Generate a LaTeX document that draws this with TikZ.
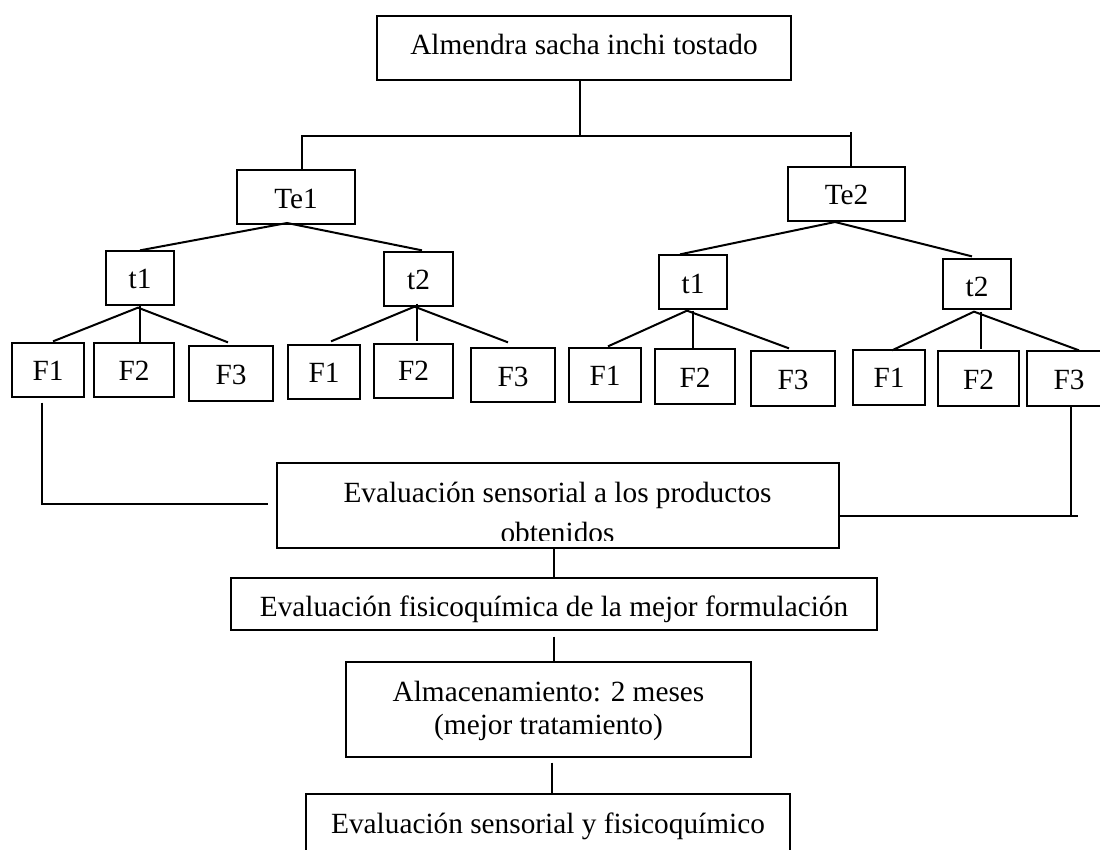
\documentclass[tikz,border=0pt]{standalone}
\usepackage{fontspec}
\setmainfont{Liberation Serif}
\usetikzlibrary{calc}
\begin{document}
\begin{tikzpicture}[x=1pt,y=-1pt,
  font=\fontsize{29.3}{35}\selectfont,
  bx/.style={draw, line width=1.3pt, inner sep=0pt, text height=24pt},
  ln/.style={line width=2pt},
  lnthin/.style={line width=1.4pt}]
\useasboundingbox (0,0) rectangle (1100,849);
\clip (0,0) rectangle (1100,849);
\fill[white] (0,0) rectangle (1100,849);

% top
\node[bx, minimum width=414pt, minimum height=64pt, text depth=12pt] (root) at (584,48) {Almendra sacha inchi tostado};
\node[bx, minimum width=118pt, minimum height=54pt, text depth=2pt] (Te1) at (296,197) {Te1};
\node[bx, minimum width=117pt, minimum height=54pt, text depth=4pt] (Te2) at (846.5,194) {Te2};

% t level
\node[bx, minimum width=68pt, minimum height=54pt, text depth=4pt] (t1a) at (140,278) {t1};
\node[bx, minimum width=69pt, minimum height=54pt, text depth=4pt] (t2a) at (418.5,279) {t2};
\node[bx, minimum width=68pt, minimum height=54pt, text depth=2pt] (t1b) at (693,282) {t1};
\node[bx, minimum width=68pt, minimum height=50pt, text depth=0pt] (t2b) at (977,284) {t2};

% F level
\node[bx, minimum width=72pt, minimum height=54pt, text depth=4pt] (Fa1) at (48,370) {F1};
\node[bx, minimum width=80pt, minimum height=54pt, text depth=4pt] (Fa2) at (134,370) {F2};
\node[bx, minimum width=84pt, minimum height=55pt, text depth=3pt] (Fa3) at (231,373.5) {F3};
\node[bx, minimum width=72pt, minimum height=54pt, text depth=4pt] (Fa4) at (324,372) {F1};
\node[bx, minimum width=79pt, minimum height=54pt, text depth=6pt] (Fa5) at (413.5,371) {F2};
\node[bx, minimum width=84pt, minimum height=54pt, text depth=2pt] (Fa6) at (513,375) {F3};
\node[bx, minimum width=72pt, minimum height=54pt, text depth=4pt] (Fb1) at (605,375) {F1};
\node[bx, minimum width=80pt, minimum height=55pt, text depth=3pt] (Fb2) at (695,376.5) {F2};
\node[bx, minimum width=84pt, minimum height=55pt, text depth=3pt] (Fb3) at (793,378.5) {F3};
\node[bx, minimum width=72pt, minimum height=55pt, text depth=5pt] (Fb4) at (889,377.5) {F1};
\node[bx, minimum width=81pt, minimum height=55pt, text depth=3pt] (Fb5) at (978.5,378.5) {F2};
\node[bx, minimum width=84pt, minimum height=55pt, text depth=3pt] (Fb6) at (1069,378.5) {F3};

% lower boxes
\node[bx, minimum width=562pt, minimum height=85pt] (E1) at (558,505.5) {};
\node[anchor=base, inner sep=0pt] (E1a) at (557.5,502) {Evaluación sensorial a los productos};
\begin{scope}
  \clip (278,464) rectangle (838,540);
  \node[anchor=base, inner sep=0pt] (E1b) at (557.5,542) {obtenidos};
\end{scope}
\node[bx, minimum width=646pt, minimum height=52pt, text depth=0pt] (E2) at (554,604) {Evaluación fisicoquímica de la mejor formulación};
\node[bx, minimum width=405pt, minimum height=95pt] (E3) at (548.5,709.5) {};
\node[anchor=base, inner sep=0pt] (E3a) at (548.5,701) {Almacenamiento: 2 meses};
\node[anchor=base, inner sep=0pt] (E3b) at (548.5,734) {(mejor tratamiento)};
\node[bx, minimum width=484pt, minimum height=106pt, text depth=52pt] (E4) at (548,847) {Evaluación sensorial y fisicoquímico};

% coordinates
\coordinate (j0) at (580,136);
\coordinate (jL) at (302,136);
\coordinate (jR) at (851,136);
\coordinate (a1) at (287,223);
\coordinate (a2) at (835,222);
\coordinate (eL) at (268,504);
\coordinate (cR) at (1071,516);
\coordinate (eR) at (1078,516);

% top connectors
\draw[ln] (root.south -| j0) -- (j0);
\draw[ln] (Te1.north -| jL) -- (jL) -- (jR) -- ++(0,-4);
\draw[ln] (jR) -- (Te2.north -| jR);

\draw[ln] (t1a.north) -- (a1) -- ($(t2a.north)+(3.5,-1)$);
\draw[ln] ($(t1b.north)+(-13,0)$) -- (a2) -- ($(t2b.north)+(-5,-2)$);

% t -> F
\draw[ln] ($(Fa1.north)+(5,-1)$) -- ($(t1a.south)+(-2,2)$) -- ($(Fa3.north)+(-3,-3)$);
\draw[ln] (t1a.south) -- (Fa2.north -| t1a.south);
\draw[ln] ($(Fa4.north)+(7,-3)$) -- ($(t2a.south)+(-4,0)$) -- ($(Fa6.north)+(-5,-5)$);
\draw[ln] ($(t2a.south)+(-1.5,-3)$) -- ($(Fa5.north)+(3.5,-2)$);
\draw[ln] ($(Fb1.north)+(3,-1)$) -- ($(t1b.south)+(-6,1)$) -- ($(Fb3.north)+(-4,-2)$);
\draw[ln] ($(t1b.south)+(0,1)$) -- (Fb2.north -| t1b.south);
\draw[ln] ($(Fb4.north)+(3,1)$) -- ($(t2b.south)+(-3,2)$) -- ($(Fb6.north)+(10,0)$);
\draw[ln] ($(t2b.south)+(4,2)$) -- ($(Fb5.north)+(2.5,-1)$);

% F -> evaluation
\draw[ln] ($(Fa1.south)+(-6,5)$) |- (eL);
\draw[ln] (cR |- Fb6.south) -- (cR);
\draw[ln] (E1.east |- eR) -- (eR);

% lower chain
\draw[lnthin] (E2.north |- E1.south) -- (E2.north);
\draw[lnthin] ($(E2.south)+(0,6)$) -- (E3.north -| E2.south);
\draw[lnthin] ($(E3.south)+(3.5,5)$) -- ($(E4.north)+(4,0)$);
\end{tikzpicture}
\end{document}
